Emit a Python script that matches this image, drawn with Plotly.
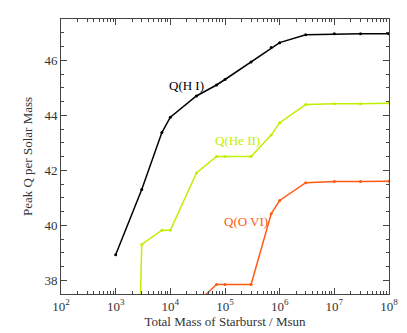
import math
import plotly.graph_objects as go

# total starburst mass (Msun) and log peak Q per solar mass
mass_hi = [1e3, 3e3, 7e3, 1e4, 3e4, 7e4, 1e5, 3e5, 7e5, 1e6, 3e6, 1e7, 3e7, 1e8]
q_hi = [38.93, 41.30, 43.37, 43.93, 44.70, 45.10, 45.30, 45.94, 46.46, 46.64, 46.93, 46.96, 46.96, 46.96]

mass_heii = [2e3, 3e3, 7e3, 1e4, 3e4, 7e4, 1e5, 3e5, 7e5, 1e6, 3e6, 1e7, 3e7, 1e8]
q_heii = [25.0, 39.30, 39.82, 39.82, 41.90, 42.50, 42.50, 42.50, 43.28, 43.73, 44.39, 44.42, 44.42, 44.44]

mass_ovi = [3e4, 7e4, 1e5, 3e5, 7e5, 1e6, 3e6, 1e7, 3e7, 1e8]
q_ovi = [37.16, 37.85, 37.85, 37.85, 40.42, 40.90, 41.55, 41.59, 41.59, 41.60]

x_tick_vals = [1e2, 1e3, 1e4, 1e5, 1e6, 1e7, 1e8]
x_tick_text = ['10<sup>%d</sup>' % e for e in range(2, 9)]

SERIF = 'Liberation Serif, Times New Roman, serif'

series = [
    ('Q(H I)', mass_hi, q_hi, '#000000', 1.95e4, 45.1),
    ('Q(He II)', mass_heii, q_heii, '#bff000', 1.68e5, 43.1),
    ('Q(O VI)', mass_ovi, q_ovi, '#ff5a10', 2.47e5, 40.15),
]

fig = go.Figure()
for name, x, y, col, lx, ly in series:
    fig.add_trace(go.Scatter(x=x, y=y, mode='lines+markers', name=name,
                             line=dict(color=col, width=1.5),
                             marker=dict(color=col, size=3)))
    # log axis: annotation x is given in log10 units
    fig.add_annotation(x=math.log10(lx), y=ly, xref='x', yref='y', text=name,
                       showarrow=False,
                       font=dict(color=col, size=13, family=SERIF))

axis_common = dict(showgrid=False, zeroline=False, showline=True, linecolor='#444',
                   linewidth=1, mirror='allticks', ticks='inside', ticklen=6,
                   tickcolor='#444', automargin=False,
                   tickfont=dict(size=13, color='#333', family=SERIF))

fig.update_xaxes(type='log', range=[2, 8], tickvals=x_tick_vals, ticktext=x_tick_text,
                 title=dict(text='Total Mass of Starburst / Msun', standoff=2,
                            font=dict(size=13, color='#333', family=SERIF)),
                 minor=dict(ticks='inside', ticklen=3, dtick='D1', tickcolor='#444'),
                 **axis_common)
fig.update_yaxes(range=[37.5, 47.5], dtick=2, tick0=38,
                 title=dict(text='Peak Q per Solar Mass', standoff=8,
                            font=dict(size=13, color='#333', family=SERIF)),
                 minor=dict(ticks='inside', ticklen=3, dtick=0.5, tickcolor='#444'),
                 **axis_common)

fig.update_layout(width=407, height=333, showlegend=False,
                  margin=dict(l=61, r=18, t=19, b=39),
                  plot_bgcolor='white', paper_bgcolor='white',
                  font=dict(family=SERIF))

# drop the page's default body margin so the figure sits at the window corner
fig.write_html('out.html', config={'displayModeBar': False},
               post_script="document.body.style.margin='0';")
